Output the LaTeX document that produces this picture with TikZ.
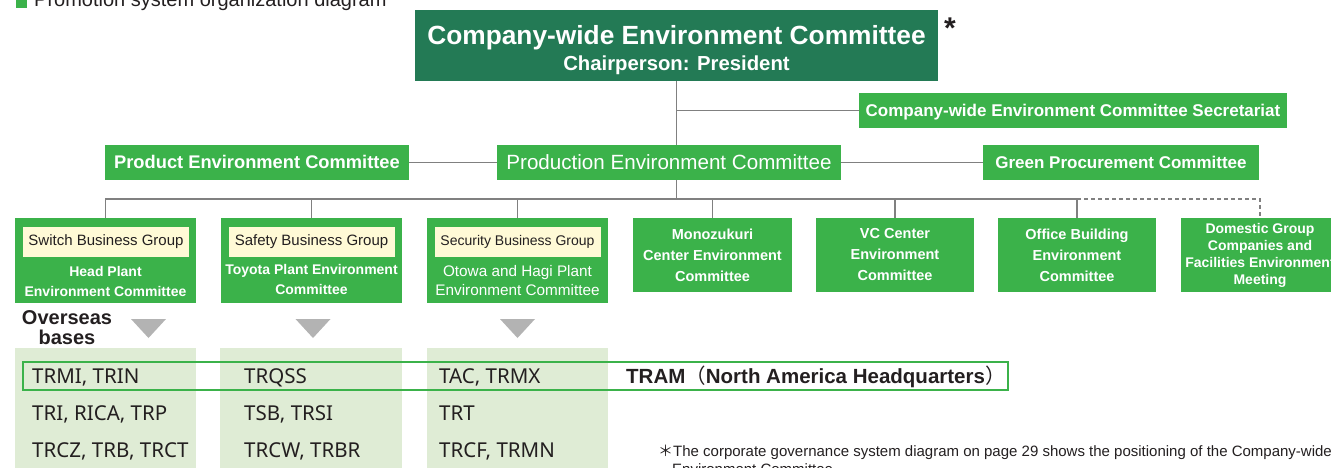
\documentclass[tikz,border=0pt]{standalone}
\usepackage{fontspec}
\setmainfont{Liberation Sans}
\newfontfamily\basesfont{Noto Sans}
\newfontfamily\cjk{Noto Sans CJK JP}
\usetikzlibrary{positioning, calc}

\definecolor{EnvDarkGreen}{RGB}{35, 122, 85}
\definecolor{EnvGreen}{RGB}{59, 178, 74}
\definecolor{EnvBeige}{RGB}{255, 250, 214}
\definecolor{EnvPale}{RGB}{223, 236, 213}
\definecolor{EnvLine}{RGB}{128, 128, 128}
\definecolor{EnvMarker}{RGB}{179, 179, 179}
\definecolor{EnvInk}{RGB}{35, 31, 32}

\begin{document}
\begin{tikzpicture}[
    x=1pt, y=-1pt,
    chairbox/.style={
        fill=EnvDarkGreen,         % darker green for the top committee
        inner sep=0pt,
        minimum width=523pt,
        minimum height=71pt
    },
    chairtext/.style={
        anchor=base,
        inner sep=0pt,
        text=white
    },
    committee/.style={
        fill=EnvGreen,             % standard committee green
        text=white,
        inner sep=0pt,
        minimum height=35pt,
        text height=12.5pt,
        text depth=0pt,
        font=\fontsize{17}{20}\selectfont\bfseries
    },
    groupbox/.style={
        fill=EnvGreen,
        inner sep=0pt,
        minimum width=181pt,
        minimum height=85pt
    },
    grouplabel/.style={
        fill=EnvBeige,             % pale yellow business group tag
        text=EnvInk,
        inner sep=0pt,
        minimum width=166pt,
        minimum height=30pt,
        font=\fontsize{15}{18}\selectfont
    },
    plantname/.style={
        text=white,
        align=center,
        inner sep=0pt,
        font=\fontsize{14}{20}\selectfont\bfseries
    },
    sitebox/.style={
        fill=EnvGreen,
        text=white,
        align=center,
        inner sep=0pt,
        minimum width=158pt,
        minimum height=74pt,
        font=\fontsize{14.5}{21}\selectfont\bfseries
    },
    connector/.style={
        draw=EnvLine,
        line width=1.3pt
    },
    marker/.style={
        fill=EnvMarker
    },
    basepanel/.style={
        fill=EnvPale,              % light green column behind the bases
        inner sep=0pt,
        minimum width=181pt,
        minimum height=120pt,
        anchor=north west
    },
    basename/.style={
        anchor=base west,
        inner sep=0pt,
        text=EnvInk,
        font=\basesfont\fontsize{20.5}{24}\selectfont
    },
    note/.style={
        anchor=base west,
        inner sep=0pt,
        text=EnvInk
    }
]

    \useasboundingbox (0,0) rectangle (1331,467);

    % --- 1. Heading ---
    \fill[EnvGreen] (16,-4) rectangle (27,8);
    \node[note, font=\fontsize{20}{24}\selectfont] (heading) at (34,6) {Promotion system organization diagram};

    % --- 2. Top committee ---
    \node[chairbox] (chair) at (676.5,45.5) {};
    \node[chairtext, font=\fontsize{26.3}{30}\selectfont\bfseries] (chairtitle) at (676.5,44) {Company-wide Environment Committee};
    \node[chairtext, font=\fontsize{20.3}{24}\selectfont\bfseries] (chairperson) at (676.5,70) {Chairperson: President};
    \node[note, font=\fontsize{30}{34}\selectfont\bfseries] (chairmark) at (944,38) {*};

    % --- 3. Second level ---
    \node[committee, minimum width=428pt] (secretariat) at (1073,110.5) {Company-wide Environment Committee Secretariat};
    \node[committee, minimum width=304pt, font=\fontsize{18.3}{22}\selectfont\bfseries] (product) at (257,162.5) {Product Environment Committee};
    \node[committee, minimum width=344pt, text height=14.5pt, font=\fontsize{20.6}{24}\selectfont] (production) at (669,162.5) {Production Environment Committee};
    \node[committee, minimum width=276pt] (procurement) at (1121,162.5) {Green Procurement Committee};

    % --- 4. Plants and sites ---
    \node[groupbox] (switch) at (105.5,260.5) {};
    \node[grouplabel] (switchtag) at (106,242) {Switch Business Group};
    \node[plantname] (switchplant) at (105.5,281) {Head Plant\\Environment Committee};

    \node[groupbox] (safety) at (311.5,260.5) {};
    \node[grouplabel] (safetytag) at (311.5,242) {Safety Business Group};
    \node[plantname] (safetyplant) at (311.5,279) {Toyota Plant Environment\\Committee};

    \node[groupbox] (security) at (517.5,260.5) {};
    \node[grouplabel, font=\fontsize{14}{18}\selectfont] (securitytag) at (517.5,242) {Security Business Group};
    \node[plantname, font=\fontsize{15.3}{19}\selectfont] (securityplant) at (517.5,280.5) {Otowa and Hagi Plant\\Environment Committee};

    \node[sitebox, minimum width=159pt] (monozukuri) at (712.5,255) {Monozukuri\\Center Environment\\Committee};
    \node[sitebox] (vccenter) at (895,255) {VC Center\\Environment\\Committee};
    \node[sitebox] (office) at (1077,255) {Office Building\\Environment\\Committee};
    \node[sitebox, font=\fontsize{14}{17}\selectfont\bfseries] (domestic) at (1260,255) {Domestic Group\\Companies and\\Facilities Environment\\Meeting};

    % --- 5. Connectors ---
    \coordinate (bar) at (0,199);
    \draw[connector] (chair.south) -- (chair.south |- production.north);
    \draw[connector] (chair.south |- production.south) -- (chair.south |- bar);
    \draw[connector] (chair.south |- secretariat.west) -- (secretariat.west);
    \draw[connector] (product.east) -- (production.west);
    \draw[connector] (production.east) -- (procurement.west);
    \draw[connector] (switch.north) -- (switch.north |- bar) -- (office.north |- bar) -- (office.north);
    \foreach \unit in {safety, security, monozukuri, vccenter}
        \draw[connector] (\unit.north) -- (\unit.north |- bar);
    \draw[connector, dash pattern=on 4pt off 3pt] (office.north |- bar) -- (domestic.north |- bar) -- (domestic.north);

    % --- 6. Overseas bases ---
    \node[note, anchor=base, align=center, font=\fontsize{20}{20}\selectfont\bfseries] (overseas) at (67,344) {Overseas\\bases};
    \foreach \tx in {148.5, 313, 517.5}
        \fill[marker] (\tx-17.5,319) -- (\tx+17.5,319) -- (\tx,338) -- cycle;

    \node[basepanel] (switchbases) at (15,348) {};
    \node[basepanel, minimum width=182pt] (safetybases) at (220,348) {};
    \node[basepanel] (securitybases) at (427,348) {};
    \node[draw=EnvGreen, line width=1.6pt, inner sep=0pt, anchor=north west,
          minimum width=985pt, minimum height=28pt] (tramband) at (22,361) {};

    \node[basename] (switchone) at (32,383) {TRMI, TRIN};
    \node[basename] (switchtwo) at (32,420) {TRI, RICA, TRP};
    \node[basename] (switchthree) at (32,457) {TRCZ, TRB, TRCT};
    \node[basename] (safetyone) at (244,383) {TRQSS};
    \node[basename] (safetytwo) at (244,420) {TSB, TRSI};
    \node[basename] (safetythree) at (244,457) {TRCW, TRBR};
    \node[basename] (securityone) at (439,383) {TAC, TRMX};
    \node[basename] (securitytwo) at (439,420) {TRT};
    \node[basename] (securitythree) at (439,457) {TRCF, TRMN};

    \node[note, font=\fontsize{20.5}{24}\selectfont\bfseries] (tram) at (626,383) {TRAM{\cjk\mdseries （}North America Headquarters{\cjk\mdseries ）}};

    % --- 7. Footnote ---
    \node[note, font=\fontsize{15}{18}\selectfont] (footone) at (658,456) {{\cjk ＊}The corporate governance system diagram on page 29 shows the positioning of the Company-wide};
    \node[note, font=\fontsize{15}{18}\selectfont] (foottwo) at (672,474) {Environment Committee};

\end{tikzpicture}
\end{document}
